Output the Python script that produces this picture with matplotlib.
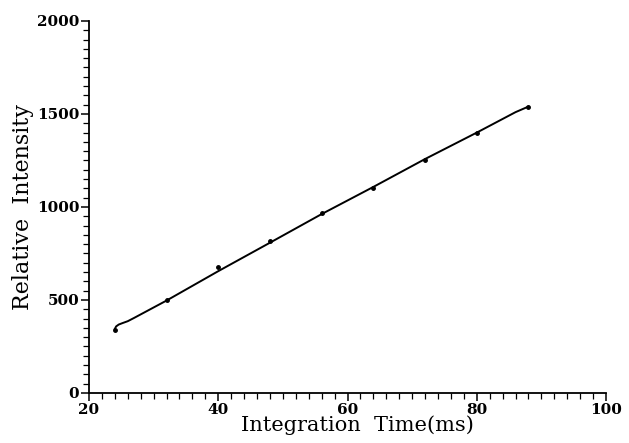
import matplotlib.pyplot as plt
from matplotlib.ticker import MultipleLocator

# measured points
time_ms = [24, 32, 40, 48, 56, 64, 72, 80, 88]
intensity = [340, 500, 675, 818, 968, 1100, 1255, 1400, 1540]

# hand-drawn fit curve
fit_x = [24, 24.2, 24.6, 25.2, 26, 27, 32, 40, 48, 56, 64, 72, 80, 86, 88]
fit_y = [345, 358, 368, 376, 386, 404, 497, 655, 808, 962, 1108, 1258, 1400, 1510, 1540]

plt.rcParams['font.family'] = ['DejaVu Serif']

fig = plt.figure(figsize=(6.29, 4.43), dpi=100)
ax = fig.add_axes([0.1415, 0.1129, 0.822, 0.8397])

ax.plot(fit_x, fit_y, color='black', lw=1.4)
ax.plot(time_ms, intensity, 'o', color='black', ms=2.5)

ax.set_xlim(20, 100)
ax.set_ylim(0, 2000)
ax.xaxis.set_major_locator(MultipleLocator(20))
ax.xaxis.set_minor_locator(MultipleLocator(2))
ax.yaxis.set_major_locator(MultipleLocator(500))
ax.yaxis.set_minor_locator(MultipleLocator(50))

for s in ['top', 'right']:
    ax.spines[s].set_visible(False)
for s in ['left', 'bottom']:
    ax.spines[s].set_linewidth(1.3)

ax.tick_params(which='major', direction='out', length=6, width=1.1, labelsize=11, pad=1)
ax.tick_params(which='minor', direction='out', length=4, width=0.9)
for lab in ax.get_xticklabels() + ax.get_yticklabels():
    lab.set_fontweight('bold')

ax.set_xlabel('Integration  Time(ms)', fontsize=15)
ax.xaxis.set_label_coords(0.52, -0.06)
ax.set_ylabel('Relative  Intensity', fontsize=16, labelpad=2)

fig.savefig('out.png', dpi=100)
